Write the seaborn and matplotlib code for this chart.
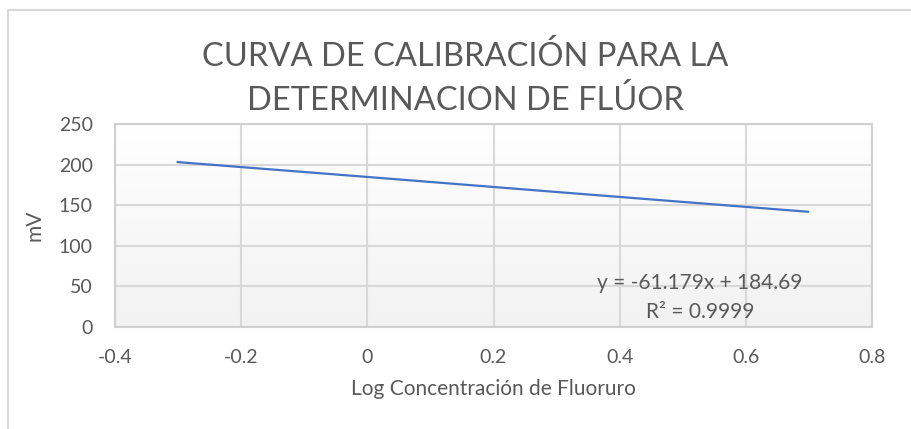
import numpy as np
import pandas as pd
import matplotlib
matplotlib.use("Agg")
import matplotlib.pyplot as plt
from matplotlib.colors import LinearSegmentedColormap
from matplotlib.patches import Rectangle
import seaborn as sns

# ---- data ----
log_conc = [-0.301, 0.0, 0.301, 0.699]
mv_values = [203.1, 184.8, 166.2, 141.9]
x_ticks = [-0.4, -0.2, 0, 0.2, 0.4, 0.6, 0.8]
x_tick_labels = ["-0.4", "-0.2", "0", "0.2", "0.4", "0.6", "0.8"]
y_ticks = [0, 50, 100, 150, 200, 250]
y_tick_labels = ["0", "50", "100", "150", "200", "250"]
title_lines = ["CURVA DE CALIBRACIÓN PARA LA", "DETERMINACION DE FLÚOR"]
x_label = "Log Concentración de Fluoruro"
y_label = "mV"
eq_text = "y = -61.179x + 184.69"
r2_text = "R² = 0.9999"

df = pd.DataFrame({"x": log_conc, "y": mv_values})

sns.set_theme(style="white")
plt.rcParams["font.family"] = ["Lato", "DejaVu Sans"]

W, H = 911, 429
fig = plt.figure(figsize=(W / 100, H / 100), dpi=100)
fig.patch.set_facecolor("white")

left, right, top, bottom = 115, 872, 124, 327
ax = fig.add_axes([left / W, (H - bottom) / H, (right - left) / W, (bottom - top) / H])

# gradient background
cmap = LinearSegmentedColormap.from_list("g", ["#f2f2f2", "#ffffff"])
grad = np.linspace(0, 1, 256).reshape(-1, 1)
ax.imshow(grad, cmap=cmap, aspect="auto", extent=[0, 1, 0, 1],
          transform=ax.transAxes, origin="lower", zorder=0)

sns.lineplot(data=df, x="x", y="y", ax=ax, color="#4472C4", linewidth=1.6, zorder=3)

ax.set_xlim(-0.4, 0.8)
ax.set_ylim(0, 250)
ax.set_xticks(x_ticks)
ax.set_xticklabels(x_tick_labels)
ax.set_yticks(y_ticks)
ax.set_yticklabels(y_tick_labels)
ax.grid(True, color="#d9d9d9", linewidth=1.5, zorder=1)
ax.set_axisbelow(True)
for s in ax.spines.values():
    s.set_color("#d0d0d0")
    s.set_linewidth(1.5)

ax.tick_params(axis="both", length=0, labelsize=14, labelcolor="#595959")
ax.tick_params(axis="y", pad=16)
ax.tick_params(axis="x", pad=16)

ax.set_xlabel(x_label, fontsize=15, color="#595959")
ax.xaxis.set_label_coords(0.5, (bottom - 389) / (bottom - top))
ax.xaxis.label.set_va("center")
ax.set_ylabel(y_label, fontsize=15, color="#595959")
ax.yaxis.set_label_coords((35 - left) / (right - left), 0.5)
ax.yaxis.label.set_va("center")

ax.text(0.773, (bottom - 283) / (bottom - top), eq_text, transform=ax.transAxes,
        ha="center", va="center", fontsize=15, color="#595959", zorder=4)
ax.text(0.773, (bottom - 312) / (bottom - top), r2_text, transform=ax.transAxes,
        ha="center", va="center", fontsize=15, color="#595959", zorder=4)

fig.text(465 / W, 1 - 57 / H, title_lines[0], ha="center", va="center",
         fontsize=23.5, color="#595959")
fig.text(465 / W, 1 - 101 / H, title_lines[1], ha="center", va="center",
         fontsize=23.5, color="#595959")

fig.patches.append(Rectangle((7.5 / W, -0.1), 1.2, (H - 10) / H + 0.1,
                             transform=fig.transFigure, fill=False,
                             edgecolor="#d9d9d9", linewidth=1.5))

fig.savefig("out.png", dpi=100)
